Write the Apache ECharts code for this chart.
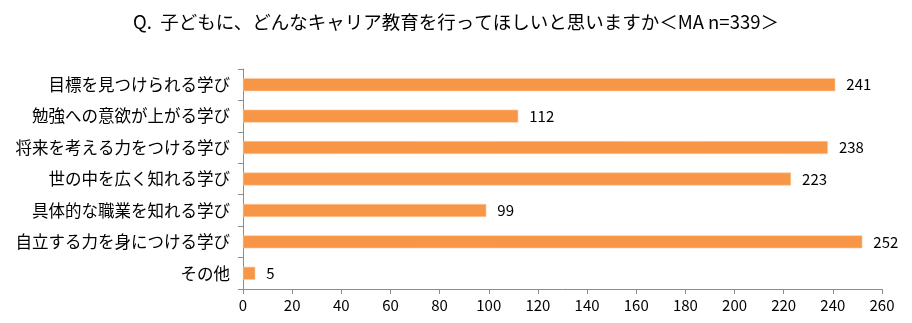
<!DOCTYPE html>
<html>
<head>
<meta charset="utf-8">
<script src="https://cdn.jsdelivr.net/npm/echarts@6/dist/echarts.min.js"></script>
<style>
  html, body { margin: 0; padding: 0; background: #fff; }
  #chart { width: 912px; height: 323px; }
</style>
</head>
<body>
<div id="chart"></div>
<script>
// Survey answers (multiple answers allowed, n=339)
const titleText = 'Q.  子どもに、どんなキャリア教育を行ってほしいと思いますか＜MA n=339＞';
const categories = [
  '目標を見つけられる学び',
  '勉強への意欲が上がる学び',
  '将来を考える力をつける学び',
  '世の中を広く知れる学び',
  '具体的な職業を知れる学び',
  '自立する力を身につける学び',
  'その他'
];
const counts = [241, 112, 238, 223, 99, 252, 5];
const axisMin = 0;
const axisMax = 260;
const axisStep = 20;

const font = '"Noto Sans CJK JP", "Noto Sans", sans-serif';
const chart = echarts.init(document.getElementById('chart'));
chart.setOption({
  backgroundColor: '#ffffff',
  animation: false,
  title: {
    text: titleText,
    left: 'center',
    top: 8,
    textStyle: { fontFamily: font, fontSize: 18.5, fontWeight: 'normal', color: '#000' }
  },
  grid: { left: 243, right: 30, top: 69, bottom: 34, containLabel: false },
  xAxis: {
    type: 'value',
    min: axisMin,
    max: axisMax,
    interval: axisStep,
    axisLine: { show: true, lineStyle: { color: '#8c8c8c' } },
    axisTick: { show: true, length: 5, lineStyle: { color: '#8c8c8c' } },
    splitLine: { show: false },
    axisLabel: { fontFamily: font, fontSize: 15, color: '#000', margin: 9 }
  },
  yAxis: {
    type: 'category',
    data: categories,
    inverse: true,
    axisLine: { show: true, lineStyle: { color: '#8c8c8c' } },
    axisTick: { show: true, length: 5, lineStyle: { color: '#8c8c8c' } },
    axisLabel: { fontFamily: font, fontSize: 16.5, color: '#000', margin: 13 }
  },
  series: [{
    type: 'bar',
    data: counts,
    barWidth: 13,
    itemStyle: { color: '#F79646', borderColor: '#FBC9A0', borderWidth: 0.6 },
    label: {
      show: true,
      position: 'right',
      distance: 11,
      fontFamily: font,
      fontSize: 15,
      color: '#000'
    }
  }]
});
</script>
</body>
</html>
